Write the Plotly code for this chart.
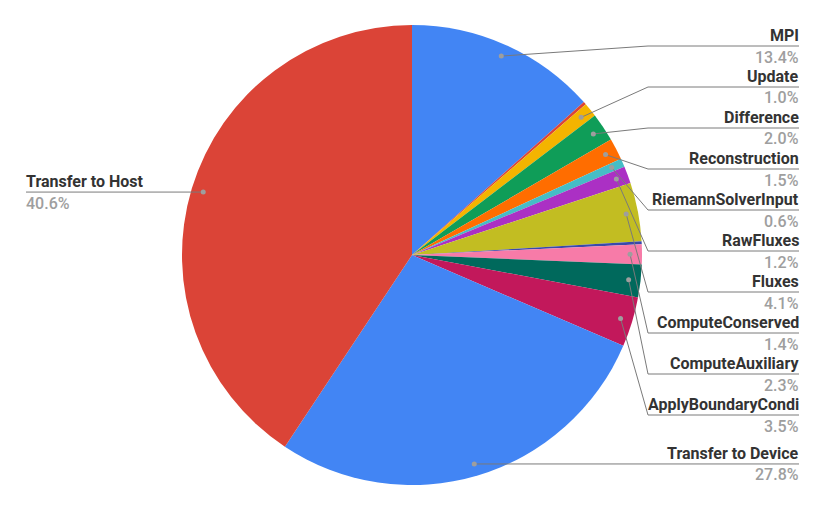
import math
import plotly.graph_objects as go

# ---- data ----
labels = ["MPI", "Other A", "Update", "Difference", "Reconstruction",
          "RiemannSolverInput", "RawFluxes", "Fluxes", "Other B",
          "ComputeConserved", "ComputeAuxiliary", "ApplyBoundaryCondi",
          "Transfer to Device", "Transfer to Host"]
values = [13.4, 0.2, 1.0, 2.0, 1.5, 0.6, 1.2, 4.1, 0.2, 1.4, 2.3, 3.5, 27.8, 40.6]
show_label = [True, False, True, True, True, True, True, True, False,
              True, True, True, True, True]
colors = ["#4285F4", "#DB4437", "#F4B400", "#0F9D58", "#FF6D00", "#46BDC6",
          "#AB30C4", "#C2BD22", "#3949AB", "#F77BA8", "#00695C", "#C2185B",
          "#4285F4", "#DB4437"]

# ---- layout constants (pixels) ----
W, H = 825, 510
CX, CY, R = 412, 255, 230
DOT_R = 0.948 * R
BEND_X = 648
RIGHT_X = 799
LEFT_X = 26
STACK_TOP = 46
STACK_STEP = 41
FS = 16
PAD = 2

fig = go.Figure()
fig.add_trace(go.Pie(
    labels=labels, values=values, sort=False, direction="clockwise",
    rotation=0, textinfo="none", hoverinfo="label+percent",
    marker=dict(colors=colors, line=dict(width=0)),
    domain=dict(x=[(CX - R) / W, (CX + R) / W], y=[(H - CY - R) / H, (H - CY + R) / H]),
    showlegend=False,
))

def px(x):
    return x / W

def py(y):
    return 1 - y / H

shapes = []
annotations = []
total = sum(values)
cum = 0.0
stack_i = 0
for lab, v, show in zip(labels, values, show_label):
    mid = (cum + v / 2) / total
    cum += v
    if not show:
        continue
    th = 2 * math.pi * mid
    dx = CX + DOT_R * math.sin(th)
    dy = CY - DOT_R * math.cos(th)
    if dx < CX:
        ly = dy
        path = f"M {px(dx)},{py(dy)} L {px(LEFT_X)},{py(ly)}"
        tx, anchor = LEFT_X - PAD, "left"
    elif dy > CY + R * 0.8:
        ly = dy
        path = f"M {px(dx)},{py(dy)} L {px(RIGHT_X)},{py(ly)}"
        tx, anchor = RIGHT_X + PAD, "right"
    else:
        ly = STACK_TOP + STACK_STEP * stack_i
        stack_i += 1
        path = (f"M {px(dx)},{py(dy)} L {px(BEND_X)},{py(ly)} "
                f"L {px(RIGHT_X)},{py(ly)}")
        tx, anchor = RIGHT_X + PAD, "right"
    shapes.append(dict(type="path", path=path, xref="paper", yref="paper",
                       line=dict(color="#7a7a7a", width=1), layer="above"))
    shapes.append(dict(type="circle", xref="paper", yref="paper",
                       x0=px(dx - 2.5), x1=px(dx + 2.5),
                       y0=py(dy + 2.5), y1=py(dy - 2.5),
                       fillcolor="#9E9E9E", line=dict(width=0), layer="above"))
    annotations.append(dict(
        x=px(tx), y=py(ly - 10.5), xref="paper", yref="paper",
        xanchor=anchor, yanchor="middle", showarrow=False, text=lab,
        font=dict(family="Roboto", size=FS, color="#333333", weight=700)))
    annotations.append(dict(
        x=px(tx), y=py(ly + 11), xref="paper", yref="paper",
        xanchor=anchor, yanchor="middle", showarrow=False, text=f"{v:.1f}%",
        font=dict(family="Roboto", size=FS, color="#9E9E9E", weight=500)))

fig.update_layout(
    width=W, height=H, margin=dict(l=0, r=0, t=0, b=0),
    paper_bgcolor="white", plot_bgcolor="white",
    shapes=shapes, annotations=annotations,
    font=dict(family="Roboto"),
)
fig.write_html("out.html")
